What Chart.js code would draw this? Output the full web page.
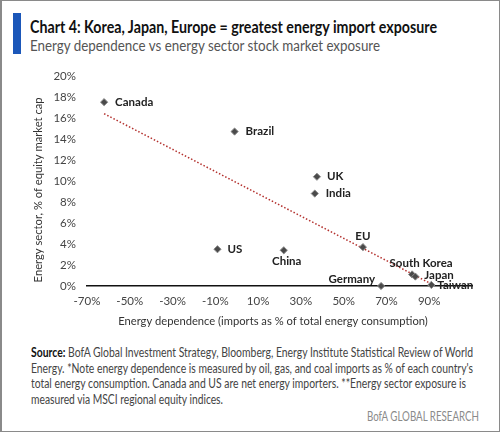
<!DOCTYPE html>
<html>
<head>
<meta charset="utf-8">
<script src="https://cdn.jsdelivr.net/npm/chart.js@4"></script>
<style>
  html, body { margin: 0; padding: 0; background: #fff; }
  body { width: 500px; height: 434px; position: relative; overflow: hidden; font-family: Lato, "Open Sans", sans-serif; }
  #frame { position: absolute; left: 0; top: 0; width: 497px; height: 430px; border: 1px solid #8a8a8a; border-left-width: 2px; }
  #bar { position: absolute; left: 13px; top: 13px; width: 8px; height: 41px; background: #1b57b9; }
  .fit { position: absolute; white-space: nowrap; transform-origin: 0 0; }
  #title { left: 30px; top: 17px; font-size: 16.5px; font-weight: bold; color: #111; }
  #sub { left: 30px; top: 36px; font-size: 15.5px; color: #555; }
  #wrap { position: absolute; left: 0; top: 58px; width: 500px; height: 279px; }
  .note { left: 31px; font-size: 12.5px; color: #444; }
  .note b { color: #111; }
  #brand { top: 409px; font-size: 12.5px; color: #8a8a8a; }
</style>
</head>
<body>
<div id="frame"></div>
<div id="bar"></div>
<div class="fit" id="title" data-w="407">Chart 4: Korea, Japan, Europe = greatest energy import exposure</div>
<div class="fit" id="sub" data-w="350">Energy dependence vs energy sector stock market exposure</div>
<div id="wrap"><canvas id="chart"></canvas></div>
<div class="fit note" style="top:345px" data-w="442"><b>Source:</b> BofA Global Investment Strategy, Bloomberg, Energy Institute Statistical Review of World</div>
<div class="fit note" style="top:361px" data-w="442">Energy. *Note energy dependence is measured by oil, gas, and coal imports as % of each country's</div>
<div class="fit note" style="top:376px" data-w="435">total energy consumption. Canada and US are net energy importers. **Energy sector exposure is</div>
<div class="fit note" style="top:392px" data-w="192">measured via MSCI regional equity indices.</div>
<div class="fit" id="brand" style="left:367px" data-w="112">BofA GLOBAL RESEARCH</div>
<script>
// số liệu
var countries = ['Canada', 'Brazil', 'US', 'UK', 'India', 'China', 'EU', 'South Korea', 'Japan', 'Germany', 'Taiwan'];
var energyDependence = [-62, -1, -9, 37.5, 36.5, 22, 59, 82, 83.5, 67.5, 91];
var energyExposure = [17.5, 14.7, 3.5, 10.4, 8.8, 3.4, 3.7, 1.1, 0.9, 0, 0.1];
var trendX = [-62, 90];
var trendY = [16.4, 0.3];
var xTicks = [-70, -50, -30, -10, 10, 30, 50, 70, 90];
var yTicks = [0, 2, 4, 6, 8, 10, 12, 14, 16, 18, 20];
var xTitle = 'Energy dependence (imports as % of total energy consumption)';
var yTitle = 'Energy sector, % of equity market cap';

// co giãn chữ cho khớp bề rộng
document.querySelectorAll('.fit').forEach(function(el) {
    var w = el.getBoundingClientRect().width;
    var target = parseFloat(el.getAttribute('data-w'));
    el.style.transform = 'scaleX(' + (target / w) + ')';
});

// vị trí nhãn: [dx, dy, canh lề]
var labelPos = {
    'Canada': [11, 0, 'left'],
    'Brazil': [11, 0, 'left'],
    'US': [10, 0, 'left'],
    'UK': [10, 0, 'left'],
    'India': [11, 0, 'left'],
    'China': [3, 11, 'center'],
    'EU': [0, -11, 'center'],
    'South Korea': [9, -11, 'center'],
    'Japan': [9, -1, 'left'],
    'Germany': [-6, -7, 'right'],
    'Taiwan': [6, 0, 'left']
};

var fontFamily = 'Lato, "Open Sans", sans-serif';

var labelPlugin = {
    id: 'pointLabels',
    afterDatasetsDraw: function(chart) {
        var ctx = chart.ctx;
        var meta = chart.getDatasetMeta(0);
        ctx.save();
        ctx.font = 'bold 11.5px ' + fontFamily;
        ctx.fillStyle = '#222';
        ctx.textBaseline = 'middle';
        meta.data.forEach(function(pt, i) {
            var p = labelPos[countries[i]];
            ctx.textAlign = p[2];
            ctx.fillText(countries[i], pt.x + p[0], pt.y + p[1]);
        });
        ctx.restore();
    }
};

// tiêu đề trục vẽ tay để đặt đúng chỗ
var axisTitlePlugin = {
    id: 'axisTitles',
    afterDraw: function(chart) {
        var ctx = chart.ctx;
        var area = chart.chartArea;
        ctx.save();
        ctx.font = '11.2px ' + fontFamily;
        ctx.fillStyle = '#333';
        ctx.textAlign = 'center';
        ctx.textBaseline = 'middle';
        ctx.fillText(xTitle, area.left + 186, area.bottom + 35);
        ctx.translate(38, area.top + 114);
        ctx.rotate(-Math.PI / 2);
        ctx.fillText(yTitle, 0, 0);
        ctx.restore();
    }
};

var points = countries.map(function(c, i) { return { x: energyDependence[i], y: energyExposure[i] }; });
var trend = trendX.map(function(x, i) { return { x: x, y: trendY[i] }; });

var tickFont = { family: fontFamily, size: 11.5 };

new Chart(document.getElementById('chart'), {
    type: 'scatter',
    data: {
        datasets: [{
            data: points,
            pointStyle: 'rectRot',
            pointRadius: 3.6,
            backgroundColor: '#4a4a4a',
            borderColor: '#8a8a8a',
            borderWidth: 1,
            clip: false
        }, {
            type: 'line',
            data: trend,
            borderColor: '#b3302d',
            borderWidth: 1.5,
            borderDash: [1.5, 2],
            pointRadius: 0,
            fill: false,
            clip: false
        }]
    },
    options: {
        responsive: true,
        maintainAspectRatio: false,
        animation: false,
        layout: { padding: { top: 6, right: 28, left: 0, bottom: 0 } },
        plugins: {
            legend: { display: false },
            tooltip: { enabled: false }
        },
        scales: {
            x: {
                type: 'linear',
                min: -70,
                max: 110,
                afterBuildTicks: function(scale) {
                    scale.ticks = xTicks.map(function(v) { return { value: v }; });
                },
                afterFit: function(scale) { scale.height = 51; },
                grid: { display: false, drawTicks: false },
                border: { display: true, color: '#111', width: 1.6 },
                ticks: {
                    padding: 8,
                    color: '#444',
                    font: tickFont,
                    maxRotation: 0,
                    autoSkip: false,
                    callback: function(v) { return v + '%'; }
                }
            },
            y: {
                min: 0,
                max: 20,
                afterBuildTicks: function(scale) {
                    scale.ticks = yTicks.map(function(v) { return { value: v }; });
                },
                afterFit: function(scale) { scale.width = 87; },
                grid: { display: false, drawTicks: false },
                border: { display: false },
                ticks: {
                    padding: 11,
                    color: '#444',
                    font: tickFont,
                    callback: function(v) { return v + '%'; }
                }
            }
        }
    },
    plugins: [labelPlugin, axisTitlePlugin]
});
</script>
</body>
</html>
